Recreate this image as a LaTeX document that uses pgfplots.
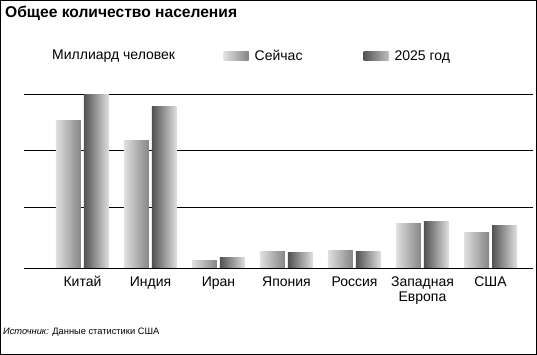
\documentclass[border=0pt]{standalone}
\usepackage{fontspec}
\setmainfont{Liberation Sans}
\usepackage{pgfplots}
\usepackage{pgfplotstable}
\pgfplotsset{compat=1.18}
\pgfplotstableread{
x y
0 1.321
1 1.134
2 0.071
3 0.143
4 0.152
5 0.393
6 0.3125
}\nowdata
\pgfplotstableread{
x y
0 1.545
1 1.446
2 0.098
3 0.134
4 0.143
5 0.411
6 0.375
}\futdata
\begin{document}
\begin{tikzpicture}
\useasboundingbox (0,0) rectangle (537bp,355bp);
\draw[line width=1.2bp] (0.6bp,0.6bp) rectangle (536.4bp,354.4bp);
\node[anchor=base west, inner sep=0, font=\fontsize{15.6bp}{17bp}\selectfont\bfseries] at (5bp,337bp) {Общее количество населения};
\node[anchor=base west, inner sep=0, font=\fontsize{14bp}{16bp}\selectfont] at (52bp,295bp) {Миллиард человек};
\node[anchor=base west, inner sep=0, font=\fontsize{9.3bp}{11bp}\selectfont] at (3bp,21bp) {\textit{Источник:} Данные статистики США};
\begin{axis}[
  at={(24bp,87bp)}, anchor=south west, scale only axis,
  width=509bp, height=180bp,
  xmin=-0.86, xmax=6.625, ymin=0, ymax=1.607,
  axis line style={draw=none},
  tick style={draw=none},
  xtick={0,...,6},
  xticklabels={Китай,Индия,Иран,Япония,Россия,{Западная\\Европа},США},
  xticklabel style={align=center, font=\fontsize{14bp}{15.5bp}\selectfont, yshift=-5bp},
  ytick={0,0.545,1.045,1.545}, yticklabels={},
  ymajorgrids, grid style={black, line width=0.9bp},
  legend columns=2,
  legend style={at={(0.392,1.178)}, anchor=west, draw=none, fill=none, inner sep=0pt,
    font=\fontsize{14bp}{16bp}\selectfont,
    /tikz/every odd column/.append style={column sep=4bp},
    /tikz/every even column/.append style={column sep=59bp}},
]
\pgfplotsinvokeforeach{0,...,6}{
  \addplot[ybar, bar width=25bp, bar shift=-14bp, draw=none,
    left color=black!12, right color=black!48, forget plot]
    table[x=x, y=y, restrict x to domain=#1:#1] {\nowdata};
  \addplot[ybar, bar width=25bp, bar shift=14bp, draw=none,
    left color=black!68, right color=black!12, forget plot]
    table[x=x, y=y, restrict x to domain=#1:#1] {\futdata};
}
\addlegendimage{draw=none, legend image code/.code={\path[draw=none, left color=black!12, right color=black!48] (0bp,-4.5bp) rectangle (25bp,4.5bp);}}
\addlegendentry{Сейчас}
\addlegendimage{draw=none, legend image code/.code={\path[draw=none, left color=black!68, right color=black!25] (0bp,-4.5bp) rectangle (25bp,4.5bp);}}
\addlegendentry{2025 год}
\end{axis}
\end{tikzpicture}
\end{document}
